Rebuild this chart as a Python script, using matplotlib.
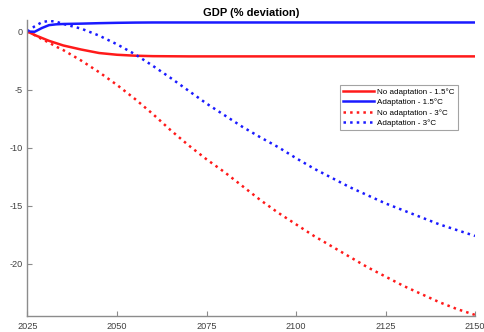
import numpy as np
import matplotlib
matplotlib.use("Agg")
import matplotlib.pyplot as plt

plt.rcParams['font.family'] = ['Liberation Sans', 'DejaVu Sans']
plt.rcParams['axes.unicode_minus'] = False

# simulation years (finer steps early on, where the adaptation paths bend)
years = [2025, 2027, 2029, 2031, 2033, 2035, 2040, 2045, 2050, 2055, 2060,
         2065, 2070, 2075, 2080, 2085, 2090, 2095, 2100, 2105, 2110, 2115,
         2120, 2125, 2130, 2135, 2140, 2145, 2150]

# GDP, % deviation from baseline
no_adapt_15 = [0.0, -0.3, -0.55, -0.8, -1.0, -1.2, -1.55, -1.85, -2.0, -2.08, -2.12,
               -2.13, -2.14, -2.14, -2.14, -2.14, -2.14, -2.14, -2.14, -2.14, -2.14,
               -2.14, -2.14, -2.14, -2.14, -2.14, -2.14, -2.14, -2.14]
adapt_15 = [0.0, -0.02, 0.3, 0.55, 0.62, 0.65, 0.68, 0.72, 0.75, 0.77, 0.78,
            0.78, 0.78, 0.78, 0.78, 0.78, 0.78, 0.78, 0.78, 0.78, 0.78,
            0.78, 0.78, 0.78, 0.78, 0.78, 0.78, 0.78, 0.78]
no_adapt_3 = [0.0, -0.3, -0.65, -0.95, -1.3, -1.6, -2.5, -3.5, -4.6, -5.8, -7.1,
              -8.5, -9.8, -11.0, -12.1, -13.3, -14.5, -15.6, -16.6, -17.6, -18.5,
              -19.4, -20.3, -21.1, -21.9, -22.6, -23.3, -23.9, -24.4]
adapt_3 = [0.0, 0.45, 0.8, 0.92, 0.85, 0.65, 0.25, -0.35, -1.1, -1.95, -2.95,
           -4.0, -5.1, -6.2, -7.2, -8.2, -9.1, -9.95, -10.9, -11.8, -12.6,
           -13.4, -14.1, -14.8, -15.4, -16.0, -16.6, -17.1, -17.6]

fig = plt.figure(figsize=(4.85, 3.32), dpi=100)
ax = fig.add_axes([0.0567, 0.048, 0.9227, 0.892])

ax.plot(years, no_adapt_15, color='#ff1a1a', lw=1.8, label='No adaptation - 1.5°C')
ax.plot(years, adapt_15, color='#1a1aff', lw=1.8, label='Adaptation - 1.5°C')
ax.plot(years, no_adapt_3, color='#ff1a1a', lw=1.8, ls=':', label='No adaptation - 3°C')
ax.plot(years, adapt_3, color='#1a1aff', lw=1.8, ls=':', label='Adaptation - 3°C')

ax.set_xlim(2025, 2150)
ax.set_ylim(-24.5, 1)
ax.set_xticks([2025, 2050, 2075, 2100, 2125, 2150])
ax.set_yticks([0, -5, -10, -15, -20])

for side in ['top', 'right']:
    ax.spines[side].set_visible(False)
for side in ['left', 'bottom']:
    ax.spines[side].set_color('#8c8c8c')
    ax.spines[side].set_linewidth(1.0)
ax.tick_params(direction='in', length=3.5, width=0.8, color='#8c8c8c',
               labelsize=6.6, labelcolor='#404040')
ax.tick_params(axis='x', pad=4.5)
ax.tick_params(axis='y', pad=3.5)

ax.set_title('GDP (% deviation)', fontsize=8, fontweight='bold', pad=3)

leg = ax.legend(loc='upper right', bbox_to_anchor=(0.962, 0.78), borderaxespad=0,
                fontsize=5.8, frameon=True, fancybox=False, handlelength=3.8,
                handletextpad=0.45, labelspacing=0.32, borderpad=0.4)
leg.get_frame().set_edgecolor('#8c8c8c')
leg.get_frame().set_linewidth(0.8)

fig.savefig('out.png', dpi=100)
